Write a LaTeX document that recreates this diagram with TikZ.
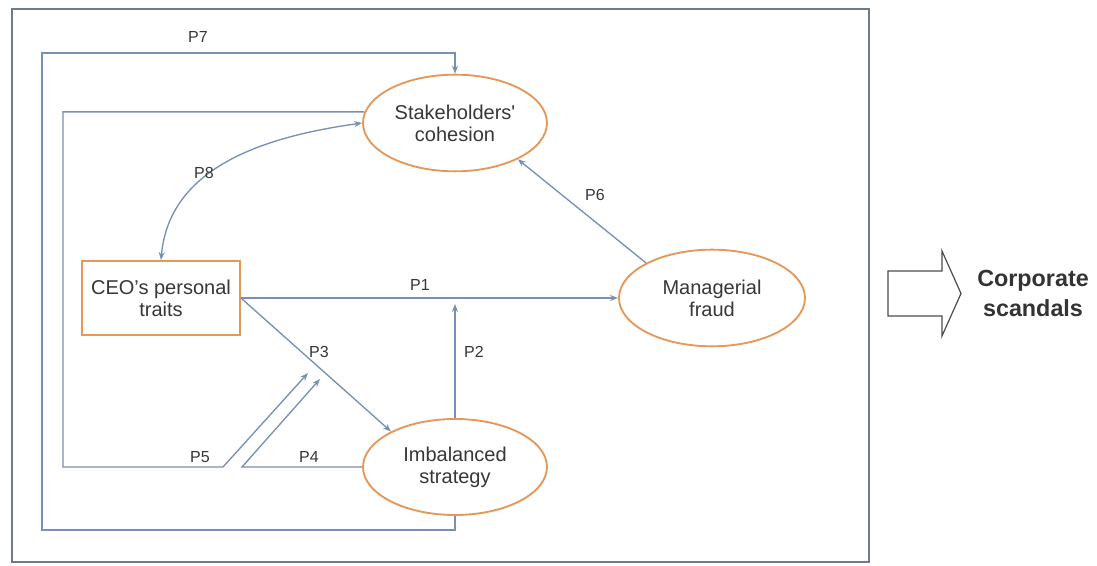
\documentclass[tikz,border=0pt]{standalone}
\usepackage{fontspec}
\setmainfont{Liberation Sans}
\usetikzlibrary{arrows.meta,shapes.geometric}
\definecolor{linec}{RGB}{120,144,180}
\definecolor{orangec}{RGB}{228,152,90}
\definecolor{framec}{RGB}{112,122,142}
\definecolor{txtc}{RGB}{55,55,55}
\begin{document}
\begin{tikzpicture}[x=0.75pt,y=-0.75pt,
  conn/.style={draw=linec, line width=1pt},
  tipc/.tip={Stealth[length=6pt,width=4.5pt]},
  arr/.style={conn,-tipc},
  oval/.style={ellipse, draw=orangec, line width=1.4pt, inner sep=0pt, align=center,
    font=\fontsize{15}{16.5}\selectfont, text=txtc, minimum width=138pt, minimum height=72.5pt},
  box/.style={rectangle, draw=orangec, line width=1.4pt, inner sep=0pt, align=center,
    font=\fontsize{15}{16.5}\selectfont, text=txtc, minimum width=118.5pt, minimum height=55.5pt},
  plabel/.style={font=\fontsize{12}{14}\selectfont, text=txtc, inner sep=0pt},
  bigarrow/.style={draw=black!70, line width=0.9pt, line join=miter}
]
\useasboundingbox (0,0) rectangle (1097,566);
\fill[white] (0,0) rectangle (1097,566);
\draw[framec, line width=2.2pt] (12,9) rectangle (869,562);

\node[oval] (stake) at (455,123) {Stakeholders\textquotesingle\\cohesion};
\node[oval, minimum width=139.5pt] (man) at (712,298) {Managerial\\fraud};
\node[oval, minimum height=72pt] (imb) at (455,467) {Imbalanced\\strategy};
\node[box] (ceo) at (161,298) {CEO's personal\\traits};

\coordinate (p2top) at (455,304);
\coordinate (p4c) at (242,467);
\coordinate (p4t) at (320,379);
\coordinate (p5l) at (63,467);
\coordinate (p5c) at (223,467);
\coordinate (p5t) at (308,373);
\coordinate (p7a) at (42,530);
\coordinate (p7b) at (455,53);

% P1
\draw[arr] (ceo.east) -- (man.west);
% P2
\draw[arr] (imb.north) -- (p2top);
% P3
\draw[arr] (ceo.east) -- (imb.151);
% P4
\draw[arr] (imb.west) -- (p4c) -- (p4t);
% P5
\draw[arr] (stake.173) -| (p5l) -- (p5c) -- (p5t);
% P6
\draw[arr] (man.152) -- (stake.330);
% P7
\draw[arr] (imb.south) |- (p7a) |- (p7b) -- (stake.north);
% P8
\draw[conn, tipc-tipc] (ceo.north) to[out=85,in=188] (stake.west);

\node[plabel] (l7) at (198,37) {P7};
\node[plabel] (l8) at (204,173) {P8};
\node[plabel] (l6) at (595,195) {P6};
\node[plabel] (l1) at (420,285) {P1};
\node[plabel] (l2) at (474,352) {P2};
\node[plabel] (l3) at (319,352) {P3};
\node[plabel] (l5) at (200,457) {P5};
\node[plabel] (l4) at (309,457) {P4};

\draw[bigarrow] (888,271) -- (942,271) -- (942,251) -- (961,293.5) -- (942,336) -- (942,316) -- (888,316) -- cycle;
\node[font=\bfseries\fontsize{17.5}{22.5}\selectfont, align=center, text=black!80] (cs) at (1033,293) {Corporate\\scandals};
\end{tikzpicture}
\end{document}
